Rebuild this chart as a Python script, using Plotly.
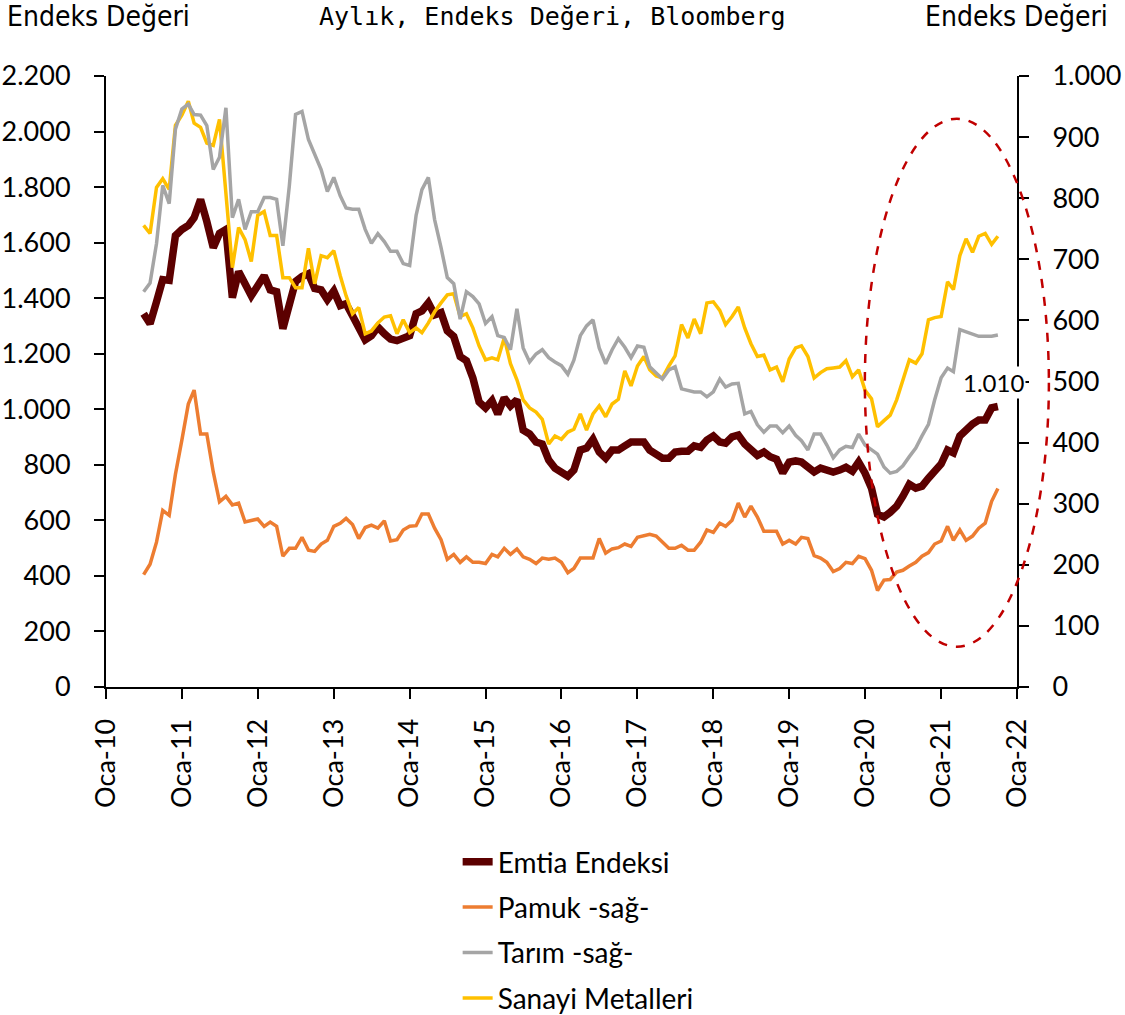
import pandas as pd
import plotly.graph_objects as go

# ---------------- data (monthly, Jul-2010 .. Oct-2021) ----------------
start_month = "2010-07-01"

emtia = [
    1344, 1308, 1387, 1467, 1464, 1625,
    1647, 1662, 1690, 1755, 1676, 1582, 1633, 1647, 1402, 1496, 1452, 1409,
    1445, 1481, 1430, 1423, 1290, 1390, 1460, 1478, 1488, 1435, 1430, 1395,
    1426, 1373, 1380, 1337, 1293, 1250, 1265, 1296, 1272, 1253, 1247, 1258,
    1265, 1344, 1354, 1383, 1340, 1348, 1282, 1262, 1190, 1175, 1113, 1026,
    1005, 1031, 983, 1041, 1012, 1034, 925, 911, 882, 875, 817, 788,
    774, 759, 781, 853, 860, 892, 846, 824, 853, 853, 868, 882,
    882, 882, 853, 839, 824, 824, 846, 849, 849, 868, 863, 889,
    904, 882, 878, 901, 907, 875, 853, 834, 846, 829, 820, 771,
    810, 814, 810, 795, 774, 788, 781, 774, 781, 791, 777, 810,
    770, 716, 622, 612, 629, 651, 687, 730, 716, 723, 752, 781,
    803, 853, 843, 904, 928, 947, 961, 961, 1005, 1010,
]

pamuk = [
    184, 201, 237, 289, 281, 348,
    404, 463, 486, 414, 414, 352, 303, 312, 298, 301, 270, 273,
    275, 263, 270, 263, 214, 227, 227, 245, 224, 222, 234, 240,
    263, 268, 276, 266, 243, 261, 265, 260, 272, 239, 241, 257,
    263, 264, 283, 283, 260, 241, 209, 217, 204, 213, 204, 204,
    202, 217, 213, 227, 217, 226, 213, 209, 202, 211, 209, 211,
    204, 187, 194, 211, 211, 211, 243, 219, 226, 228, 234, 230,
    245, 247, 250, 247, 237, 227, 227, 232, 224, 224, 237, 257,
    253, 268, 263, 273, 301, 278, 296, 278, 255, 255, 255, 234,
    240, 234, 245, 243, 215, 211, 204, 189, 194, 204, 202, 214,
    210, 191, 158, 175, 176, 188, 191, 198, 204, 214, 220, 234,
    239, 263, 240, 257, 240, 247, 260, 268, 304, 325,
]

tarim = [
    647, 661, 726, 821, 791, 913,
    946, 954, 937, 936, 919, 847, 867, 948, 768, 798, 749, 778,
    778, 801, 801, 798, 722, 820, 937, 942, 896, 870, 847, 811,
    834, 804, 784, 782, 782, 749, 726, 742, 729, 713, 713, 693,
    690, 772, 814, 834, 765, 719, 670, 660, 602, 647, 639, 627,
    595, 606, 575, 572, 552, 619, 555, 532, 545, 552, 539, 532,
    526, 512, 535, 575, 591, 601, 555, 529, 552, 570, 556, 539,
    558, 556, 524, 514, 504, 519, 524, 488, 486, 483, 483, 475,
    483, 504, 491, 496, 497, 447, 451, 429, 417, 427, 427, 416,
    427, 412, 403, 388, 414, 414, 396, 375, 388, 394, 392, 414,
    396, 388, 381, 360, 350, 353, 362, 377, 391, 411, 430, 470,
    506, 522, 516, 585, 581, 578, 574, 574, 574, 576,
]

sanayi = [
    1662, 1633, 1799, 1830, 1792, 2022,
    2059, 2109, 2030, 2015, 1958, 1950, 2044, 1780, 1510, 1654, 1611, 1532,
    1698, 1712, 1626, 1626, 1474, 1474, 1438, 1438, 1580, 1452, 1553, 1546,
    1571, 1481, 1409, 1344, 1366, 1272, 1282, 1311, 1332, 1337, 1272, 1322,
    1276, 1293, 1276, 1311, 1351, 1383, 1412, 1416, 1334, 1344, 1293, 1228,
    1178, 1185, 1178, 1257, 1164, 1106, 1034, 1005, 990, 964, 875, 904,
    892, 918, 928, 983, 925, 983, 1012, 973, 1019, 1036, 1138, 1084,
    1156, 1190, 1142, 1120, 1113, 1156, 1192, 1305, 1257, 1325, 1272, 1383,
    1387, 1356, 1305, 1334, 1368, 1293, 1236, 1190, 1195, 1142, 1152, 1099,
    1181, 1221, 1228, 1190, 1113, 1132, 1146, 1149, 1152, 1175, 1117, 1142,
    1068, 1038, 937, 959, 979, 1034, 1106, 1178, 1166, 1200, 1322, 1330,
    1334, 1459, 1431, 1553, 1614, 1565, 1623, 1633, 1594, 1623,
]

tick_dates = ["2010-01-01", "2011-01-01", "2012-01-01", "2013-01-01", "2014-01-01",
              "2015-01-01", "2016-01-01", "2017-01-01", "2018-01-01", "2019-01-01",
              "2020-01-01", "2021-01-01", "2022-01-01"]
tick_labels = ["Oca-10", "Oca-11", "Oca-12", "Oca-13", "Oca-14", "Oca-15", "Oca-16",
               "Oca-17", "Oca-18", "Oca-19", "Oca-20", "Oca-21", "Oca-22"]

series_names = ["Emtia Endeksi", "Pamuk -sağ-", "Tarım -sağ-", "Sanayi Metalleri"]
last_label = "1.010"

# ---------------- styling ----------------
dates = pd.date_range(start_month, periods=len(emtia), freq="MS")

C_EMTIA = "#5C0000"
C_PAMUK = "#ED7D31"
C_TARIM = "#A5A5A5"
C_SANAYI = "#FFC000"

LBL_FONT = "Lato, 'Open Sans', sans-serif"
HEAD_FONT = "'DejaVu Sans Condensed', 'Liberation Sans Narrow', 'DejaVu Sans', sans-serif"
TITLE_FONT = "'DejaVu Sans Mono', monospace"

fig = go.Figure()
fig.add_trace(go.Scatter(x=dates, y=emtia, name=series_names[0], mode="lines",
                         line=dict(color=C_EMTIA, width=7.5), legendgroup="g1"))
fig.add_trace(go.Scatter(x=dates, y=pamuk, name=series_names[1], mode="lines", yaxis="y2",
                         line=dict(color=C_PAMUK, width=3.5), legendgroup="g2"))
fig.add_trace(go.Scatter(x=dates, y=tarim, name=series_names[2], mode="lines", yaxis="y2",
                         line=dict(color=C_TARIM, width=3.5), legendgroup="g3"))
fig.add_trace(go.Scatter(x=dates, y=sanayi, name=series_names[3], mode="lines",
                         line=dict(color=C_SANAYI, width=3.5), legendgroup="g4"))

axis_common = dict(showline=True, linewidth=2, linecolor="black", ticks="outside",
                   ticklen=10, tickwidth=2, tickcolor="black", showgrid=False,
                   zeroline=False, automargin=False)

fig.update_layout(
    width=1125, height=1015,
    margin=dict(l=106, r=108, t=76, b=328, autoexpand=False),
    paper_bgcolor="white", plot_bgcolor="white",
    separators=",.",
    showlegend=True,
    legend=dict(x=0.386, y=-0.2455, xanchor="left", yanchor="top",
                font=dict(family=LBL_FONT, size=28, color="black"),
                tracegroupgap=6, bgcolor="rgba(0,0,0,0)"),
    xaxis=dict(type="date", range=["2010-01-01", "2022-01-01"],
               tickvals=tick_dates, ticktext=tick_labels, tickangle=-90,
               ticklabelstandoff=9,
               tickfont=dict(family=LBL_FONT, size=27, color="black"), **axis_common),
    yaxis=dict(range=[0, 2200], dtick=200, tick0=0, tickformat=",d", ticklabelstandoff=18,
               tickfont=dict(family=LBL_FONT, size=27, color="black"), **axis_common),
    yaxis2=dict(range=[0, 1000], dtick=100, tick0=0, tickformat=",d", overlaying="y",
                side="right", ticklabelstandoff=18,
                tickfont=dict(family=LBL_FONT, size=27, color="black"), **axis_common),
)

# header texts
fig.add_annotation(text="Endeks Değeri", xref="paper", yref="paper", x=-0.111, y=1.098,
                   xanchor="left", yanchor="middle", showarrow=False,
                   font=dict(family=HEAD_FONT, size=28, color="black"))
fig.add_annotation(text="Endeks Değeri", xref="paper", yref="paper", x=1.102, y=1.098,
                   xanchor="right", yanchor="middle", showarrow=False,
                   font=dict(family=HEAD_FONT, size=28, color="black"))
fig.add_annotation(text="Aylık, Endeks Değeri, Bloomberg", xref="paper", yref="paper",
                   x=0.49, y=1.098, xanchor="center", yanchor="middle", showarrow=False,
                   font=dict(family=TITLE_FONT, size=25, color="black"))

# last value label
fig.add_annotation(text=last_label, x=dates[-1], y=emtia[-1], xref="x", yref="y",
                   showarrow=False, yshift=24, xshift=-4, bgcolor="white",
                   font=dict(family=LBL_FONT, size=24, color="black"))

# dashed highlight ellipse (paper coords)
ELLIPSE = dict(x0=0.833, x1=1.035, y0=0.066, y1=0.930)
fig.add_shape(type="circle", xref="paper", yref="paper", **ELLIPSE,
              line=dict(color="#C00000", width=2.5, dash="dash"), layer="above")

# remove the default 8px page margin so the figure fills the window exactly
fig.write_html("out.html", config={"displayModeBar": False},
               post_script="document.body.style.margin='0';")
